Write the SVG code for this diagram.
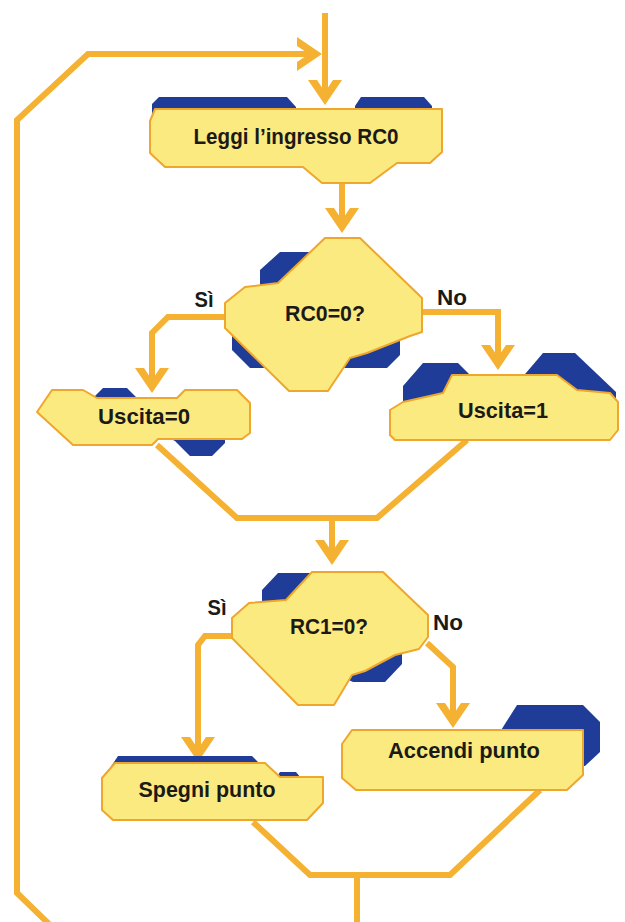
<svg xmlns="http://www.w3.org/2000/svg" xmlns:xlink="http://www.w3.org/1999/xlink" width="625" height="922" viewBox="0 0 625 922">
  <style>
    .bg { fill: #ffffff; }
    .wire { fill: none; stroke: #F5B131; stroke-width: 6; stroke-linejoin: miter; stroke-linecap: butt; }
    .tip { fill: #F5B131; }
    .box { fill: #FBEA80; stroke: #EFA62C; stroke-width: 2; stroke-linejoin: round; }
    .shade { fill: #1F3D98; }
    .lbl { font-family: "Liberation Sans", Arial, sans-serif; font-weight: bold; font-size: 22px; fill: #1b1a17; text-anchor: middle; }
  </style>
  <defs>
    <!-- chevron arrowhead, tip at the origin, pointing down -->
    <path id="chev" d="M0,0 L-17,-25 L-8,-25 L0,-13 L8,-25 L17,-25 Z"/>
  </defs>

  <rect class="bg" x="0" y="0" width="625" height="922"/>

  <!-- connectors -->
  <g id="connectors">
    <polyline class="wire" points="325,13 325,95"/>
    <polyline class="wire" points="50,925 17,893 17,120 88,54 310,54"/>
    <polyline class="wire" points="342,182 342,222"/>
    <polyline class="wire" points="225,317 168,317 152,333 152,383"/>
    <polyline class="wire" points="422,312 498,312 498,360"/>
    <polyline class="wire" points="157,445 237,518 377,518 467,440"/>
    <polyline class="wire" points="332,518 332,555"/>
    <polyline class="wire" points="232,636 205,636 198,645 198,752"/>
    <polyline class="wire" points="427,643 453,667 453,718"/>
    <polyline class="wire" points="253,822 310,875 450,875 540,790"/>
    <polyline class="wire" points="357,875 357,925"/>

    <use xlink:href="#chev" class="tip" transform="translate(325,105)"/>
    <use xlink:href="#chev" class="tip" transform="translate(322,54) rotate(-90)"/>
    <use xlink:href="#chev" class="tip" transform="translate(342,233)"/>
    <use xlink:href="#chev" class="tip" transform="translate(152,393)"/>
    <use xlink:href="#chev" class="tip" transform="translate(498,370)"/>
    <use xlink:href="#chev" class="tip" transform="translate(332,565)"/>
    <use xlink:href="#chev" class="tip" transform="translate(198,762)"/>
    <use xlink:href="#chev" class="tip" transform="translate(453,728)"/>

    <text class="lbl" x="204" y="307" textLength="19" lengthAdjust="spacingAndGlyphs">Sì</text>
    <text class="lbl" x="452" y="305" textLength="30" lengthAdjust="spacingAndGlyphs">No</text>
    <text class="lbl" x="217" y="615" textLength="19" lengthAdjust="spacingAndGlyphs">Sì</text>
    <text class="lbl" x="448" y="630" textLength="30" lengthAdjust="spacingAndGlyphs">No</text>
  </g>

  <!-- read input RC0 -->
  <g id="leggi">
    <polygon class="shade" points="152,116 152,104 159,97 287,97 296,107 296,116"/>
    <polygon class="shade" points="355,116 355,106 361,97 424,97 432,106 432,116"/>
    <polygon class="box" points="155,109 442,109 442,152 430,163 397,163 370,183 322,183 303,167 165,167 150,153 150,121"/>
    <text class="lbl" x="296" y="144" textLength="205" lengthAdjust="spacingAndGlyphs">Leggi l’ingresso RC0</text>
  </g>

  <!-- test RC0 -->
  <g id="test-rc0">
    <polygon class="shade" points="260,270 280,252 372,252 400,282 400,355 387,368 250,368 232,350 232,300 260,290"/>
    <polygon class="box" points="325,238 360,238 422,298 422,332 410,336 367,353 350,358 328,391 289,391 225,328 225,303 245,287 278,283"/>
    <text class="lbl" x="325" y="321" textLength="80" lengthAdjust="spacingAndGlyphs">RC0=0?</text>
  </g>

  <!-- output 0 -->
  <g id="uscita0">
    <polygon class="shade" points="95,402 95,396 103,388 127,388 139,400 225,400 225,443 212,456 190,456 175,441"/>
    <polygon class="box" points="37,412 52,390 83,390 97,398 177,398 185,390 237,390 250,403 250,433 242,439 158,439 152,445 73,445"/>
    <text class="lbl" x="144" y="424" textLength="92" lengthAdjust="spacingAndGlyphs">Uscita=0</text>
  </g>

  <!-- output 1 -->
  <g id="uscita1">
    <polygon class="shade" points="403,405 403,386 423,363 458,363 475,380 470,405"/>
    <polygon class="shade" points="520,400 520,380 543,353 575,353 616,392 616,400"/>
    <polygon class="box" points="390,410 403,402 443,393 452,375 557,375 577,390 610,393 618,402 618,430 610,440 395,440 390,435"/>
    <text class="lbl" x="503" y="418" textLength="90" lengthAdjust="spacingAndGlyphs">Uscita=1</text>
  </g>

  <!-- test RC1 -->
  <g id="test-rc1">
    <polygon class="shade" points="262,590 278,573 330,573 402,640 402,664 385,682 353,682 262,640"/>
    <polygon class="box" points="312,572 383,572 428,615 428,637 419,649 395,655 365,671 352,675 334,705 298,705 232,638 232,618 249,603 286,600"/>
    <text class="lbl" x="329" y="634" textLength="78" lengthAdjust="spacingAndGlyphs">RC1=0?</text>
  </g>

  <!-- switch dot off -->
  <g id="spegni">
    <polygon class="shade" points="110,768 118,756 252,756 264,768"/>
    <polygon class="shade" points="276,778 280,772 296,772 301,778"/>
    <polygon class="box" points="115,763 265,763 280,777 323,777 323,803 307,820 113,820 102,810 102,778"/>
    <text class="lbl" x="207" y="797" textLength="137" lengthAdjust="spacingAndGlyphs">Spegni punto</text>
  </g>

  <!-- switch dot on -->
  <g id="accendi">
    <polygon class="shade" points="498,735 517,705 583,705 600,722 600,752 585,766 560,766"/>
    <polygon class="box" points="352,730 583,730 583,775 567,790 356,790 342,778 342,744"/>
    <text class="lbl" x="464" y="758" textLength="152" lengthAdjust="spacingAndGlyphs">Accendi punto</text>
  </g>
</svg>
